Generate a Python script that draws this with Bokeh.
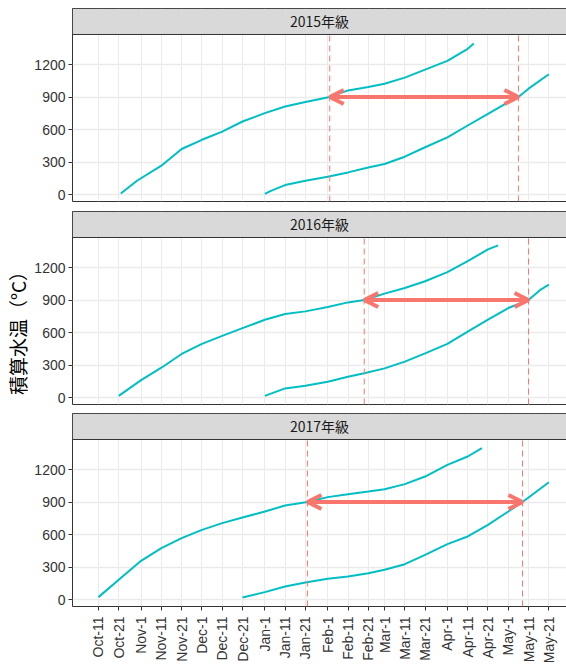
import pandas as pd
from math import pi

from bokeh.plotting import figure
from bokeh.layouts import row, column
from bokeh.models import FixedTicker, Range1d, Arrow, OpenHead
from bokeh.core.properties import value
from bokeh.embed import file_html
from bokeh.resources import INLINE

# ---- shared date axis (season runs Oct -> May) ----
tick_dates = ["10-11", "10-21", "11-01", "11-11", "11-21", "12-01", "12-11", "12-21",
              "01-01", "01-11", "01-21", "02-01", "02-11", "02-21", "03-01", "03-11",
              "03-21", "04-01", "04-11", "04-21", "05-01", "05-11", "05-21"]
tick_labels = ["Oct-11", "Oct-21", "Nov-1", "Nov-11", "Nov-21", "Dec-1", "Dec-11", "Dec-21",
               "Jan-1", "Jan-11", "Jan-21", "Feb-1", "Feb-11", "Feb-21", "Mar-1", "Mar-11",
               "Mar-21", "Apr-1", "Apr-11", "Apr-21", "May-1", "May-11", "May-21"]
y_ticks = [0, 300, 600, 900, 1200]

panel_names = ["2015年級", "2016年級", "2017年級"]
y_title = "積算水温（°C）"

# ---- accumulated water temperature, autumn start ----
autumn_dates_2015 = ["10-22", "10-30", "11-11", "11-21", "12-01", "12-11", "12-21", "01-01",
                     "01-11", "01-21", "02-02", "02-11", "02-21", "03-01", "03-11", "03-21",
                     "04-01", "04-11", "04-14"]
autumn_vals_2015 = [9, 127, 266, 420, 505, 581, 674, 751, 813, 853, 900, 961, 992, 1023,
                    1079, 1153, 1233, 1345, 1394]

autumn_dates_2016 = ["10-21", "11-01", "11-11", "11-21", "12-01", "12-11", "12-21", "01-01",
                     "01-11", "01-21", "02-01", "02-11", "02-19", "03-01", "03-11", "03-21",
                     "04-01", "04-11", "04-21", "04-26"]
autumn_vals_2016 = [15, 161, 275, 402, 495, 569, 640, 718, 770, 795, 835, 878, 900, 959,
                    1011, 1073, 1157, 1259, 1367, 1404]

autumn_dates_2017 = ["10-11", "10-21", "11-01", "11-11", "11-21", "12-01", "12-11", "12-21",
                     "01-01", "01-11", "01-22", "02-01", "02-11", "02-21", "03-01", "03-11",
                     "03-21", "04-01", "04-11", "04-18"]
autumn_vals_2017 = [22, 182, 357, 474, 566, 643, 705, 757, 812, 868, 900, 945, 972, 997,
                    1018, 1065, 1135, 1243, 1320, 1397]

# ---- accumulated water temperature, winter start ----
winter_dates_2015 = ["01-01", "01-04", "01-11", "01-21", "02-01", "02-11", "02-21", "03-01",
                     "03-11", "03-21", "04-01", "04-11", "04-21", "05-01", "05-06", "05-11",
                     "05-21"]
winter_vals_2015 = [5, 34, 87, 127, 164, 204, 250, 281, 349, 436, 528, 637, 745, 853, 900,
                    977, 1110]

winter_dates_2016 = ["01-01", "01-11", "01-21", "02-01", "02-11", "02-19", "03-01", "03-11",
                     "03-21", "04-01", "04-11", "04-21", "05-01", "05-11", "05-17", "05-21"]
winter_vals_2016 = [15, 84, 108, 145, 192, 223, 269, 331, 408, 495, 609, 718, 826, 900, 996,
                    1042]

winter_dates_2017 = ["12-21", "01-01", "01-11", "01-21", "02-01", "02-11", "02-21", "03-01",
                     "03-11", "03-21", "04-01", "04-11", "04-21", "05-01", "05-08", "05-11",
                     "05-21"]
winter_vals_2017 = [18, 68, 120, 157, 191, 212, 243, 274, 326, 412, 511, 582, 689, 812, 900,
                    941, 1083]

# dates where each curve reaches the 900 degree-day threshold
threshold = 900
reach_autumn = ["02-02", "02-19", "01-22"]
reach_winter = ["05-06", "05-11", "05-08"]

autumn_dates = [autumn_dates_2015, autumn_dates_2016, autumn_dates_2017]
autumn_vals = [autumn_vals_2015, autumn_vals_2016, autumn_vals_2017]
winter_dates = [winter_dates_2015, winter_dates_2016, winter_dates_2017]
winter_vals = [winter_vals_2015, winter_vals_2016, winter_vals_2017]

ORIGIN = pd.Timestamp(2018, 10, 1)


def to_day(md):
    """Month-day string -> days since Oct 1 of the season."""
    m, d = int(md[:2]), int(md[3:])
    year = 2018 if m >= 9 else 2019
    return (pd.Timestamp(year, m, d) - ORIGIN).days


tick_days = [to_day(t) for t in tick_dates]

TEAL = "#00BFC4"
SALMON = "#F8766D"
GRID = "#EBEBEB"
DARK = "#333333"

X0, X1 = to_day("10-11") - 12.8, to_day("05-21") + 8.7
Y_LO, Y_HI = -64.6, 1477.0      # plotting region of each panel
STRIP_TOP = 1717.0              # strip sits above the plotting region

FRAME_W = 494
FRAME_H = 193


def make_panel(i, top, bottom, show_x):
    p = figure(output_backend="svg", toolbar_location=None,
               frame_width=FRAME_W, frame_height=FRAME_H,
               x_range=Range1d(X0, X1), y_range=Range1d(Y_LO, STRIP_TOP),
               min_border_left=40, min_border_right=1,
               min_border_top=top, min_border_bottom=bottom)
    p.background_fill_color = "white"
    p.border_fill_color = "white"
    p.outline_line_color = DARK
    p.outline_line_width = 1

    p.xgrid.ticker = FixedTicker(ticks=tick_days)
    p.xgrid.grid_line_color = GRID
    p.xgrid.grid_line_width = 1
    p.ygrid.ticker = FixedTicker(ticks=y_ticks)
    p.ygrid.grid_line_color = GRID
    p.ygrid.grid_line_width = 1.5

    ax = p.yaxis[0]
    ax.ticker = FixedTicker(ticks=y_ticks)
    ax.axis_line_color = None
    ax.major_tick_line_color = DARK
    ax.major_tick_out = 4
    ax.major_tick_in = 0
    ax.minor_tick_line_color = None
    ax.major_label_text_font = "Liberation Sans"
    ax.major_label_text_font_size = "14px"
    ax.major_label_text_color = DARK
    ax.major_label_standoff = 3

    xa = p.xaxis[0]
    if show_x:
        xa.ticker = FixedTicker(ticks=tick_days)
        xa.major_label_overrides = {d: lab for d, lab in zip(tick_days, tick_labels)}
        xa.major_label_orientation = pi / 2
        xa.axis_line_color = None
        xa.major_tick_line_color = DARK
        xa.major_tick_out = 4
        xa.major_tick_in = 0
        xa.minor_tick_line_color = None
        xa.major_label_text_font = "Liberation Sans"
        xa.major_label_text_font_size = "14px"
        xa.major_label_text_color = DARK
        xa.major_label_standoff = 6
    else:
        xa.visible = False

    # accumulated temperature curves
    p.line([to_day(d) for d in autumn_dates[i]], autumn_vals[i],
           line_color=TEAL, line_width=2)
    p.line([to_day(d) for d in winter_dates[i]], winter_vals[i],
           line_color=TEAL, line_width=2)

    # threshold dates
    xa_day, xw_day = to_day(reach_autumn[i]), to_day(reach_winter[i])
    p.segment(x0=[xa_day, xw_day], y0=[Y_LO, Y_LO], x1=[xa_day, xw_day], y1=[Y_HI, Y_HI],
              line_color=SALMON, line_width=1, line_dash="6 4")

    p.add_layout(Arrow(
        start=OpenHead(size=14, line_color=SALMON, line_width=4),
        end=OpenHead(size=14, line_color=SALMON, line_width=4),
        x_start=xa_day, y_start=threshold, x_end=xw_day, y_end=threshold,
        line_color=SALMON, line_width=4))

    # facet strip
    p.quad(left=[X0], right=[X1], bottom=[Y_HI], top=[STRIP_TOP],
           fill_color="#D9D9D9", line_color=DARK, line_width=1)
    p.text(x=[(X0 + X1) / 2], y=[(Y_HI + STRIP_TOP) / 2], text=[panel_names[i]],
           text_align="center", text_baseline="middle",
           text_font=value("Noto Sans CJK JP"), text_font_size="14px",
           text_color="#1A1A1A")
    return p


p1 = make_panel(0, 8, 10, False)
p2 = make_panel(1, 0, 9, False)
p3 = make_panel(2, 0, 60, True)

# narrow column carrying the shared y-axis title
t = figure(output_backend="svg", toolbar_location=None,
           frame_width=1, frame_height=200,
           x_range=Range1d(0, 1), y_range=Range1d(0, 1),
           min_border_left=20, min_border_right=0,
           min_border_top=228, min_border_bottom=238)
t.xaxis.visible = False
t.grid.visible = False
t.outline_line_color = None
ty = t.yaxis[0]
ty.ticker = FixedTicker(ticks=[])
ty.axis_line_color = None
ty.major_tick_line_color = None
ty.minor_tick_line_color = None
ty.major_label_text_color = None
ty.axis_label = y_title
ty.axis_label_standoff = 0
ty.axis_label_text_font = "Noto Sans CJK JP"
ty.axis_label_text_font_style = "normal"
ty.axis_label_text_font_size = "19px"
ty.axis_label_text_color = "black"

layout = row(t, column(p1, p2, p3))

with open("out.html", "w") as f:
    f.write(file_html(layout, INLINE))
